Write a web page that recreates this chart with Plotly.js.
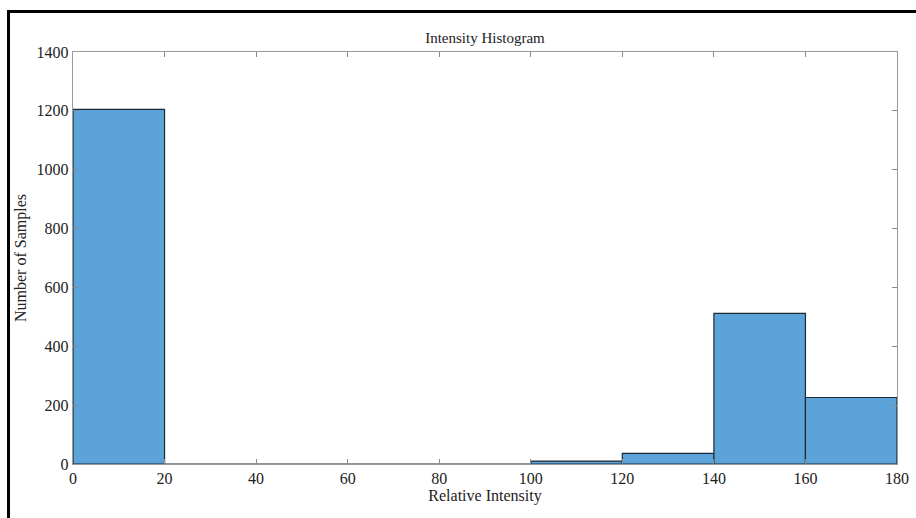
<!DOCTYPE html>
<html>
<head>
<meta charset="utf-8">
<script src="https://cdn.plot.ly/plotly-3.0.1.min.js"></script>
<style>
html,body{margin:0;padding:0;background:#fff;}
#wrap{position:relative;width:916px;height:518px;overflow:hidden;background:#fff;}
#frame{position:absolute;left:7px;top:10px;width:1000px;height:600px;border-left:3px solid #000;border-top:3px solid #000;box-sizing:border-box;pointer-events:none;z-index:5;}
#chart{position:absolute;left:0;top:0;width:916px;height:518px;}
</style>
</head>
<body>
<div id="wrap">
<div id="chart"></div>
<div id="frame"></div>
</div>
<script>
// Histogram data
const binEdges = [0, 20, 40, 60, 80, 100, 120, 140, 160, 180];
const counts = [1205, 0, 0, 0, 0, 10, 36, 512, 226];
const xTicks = [0, 20, 40, 60, 80, 100, 120, 140, 160, 180];
const yTicks = [0, 200, 400, 600, 800, 1000, 1200, 1400];
const chartTitle = "Intensity Histogram";
const xLabel = "Relative Intensity";
const yLabel = "Number of Samples";

const centers = counts.map((c, i) => (binEdges[i] + binEdges[i + 1]) / 2);
const widths = counts.map((c, i) => binEdges[i + 1] - binEdges[i]);

const fam = "'Liberation Serif', 'Times New Roman', serif";
const font = {family: fam, size: 16, color: "#222"};

const trace = {
  type: "bar",
  x: centers,
  y: counts,
  width: widths,
  marker: {color: "rgb(91,163,216)", line: {color: "#1e2a33", width: 1.2}},
  hoverinfo: "skip"
};

const axisCommon = {
  showgrid: false,
  zeroline: false,
  showline: true,
  linecolor: "#9a9a9a",
  linewidth: 1.2,
  mirror: "ticks",
  ticks: "inside",
  ticklen: 5,
  tickwidth: 1.2,
  tickcolor: "#8a8a8a",
  tickfont: font
};

const layout = {
  width: 916,
  height: 518,
  margin: {l: 73, r: 19, t: 52, b: 54},
  paper_bgcolor: "#fff",
  plot_bgcolor: "#fff",
  font: font,
  showlegend: false,
  bargap: 0,
  title: {text: chartTitle, font: {family: fam, size: 15, color: "#222"}, x: 0.5, xanchor: "center", y: 0.927, yanchor: "middle", xref: "paper"},
  xaxis: Object.assign({}, axisCommon, {
    range: [binEdges[0], binEdges[binEdges.length - 1]],
    tickmode: "array",
    tickvals: xTicks,
    ticktext: xTicks.map(String),
    title: {text: xLabel, font: font, standoff: 2}
  }),
  yaxis: Object.assign({}, axisCommon, {
    range: [0, 1400],
    tickmode: "array",
    tickvals: yTicks,
    ticktext: yTicks.map(String),
    title: {text: yLabel, font: font, standoff: 6}
  })
};

Plotly.newPlot("chart", [trace], layout, {displayModeBar: false, staticPlot: true});
</script>
</body>
</html>
